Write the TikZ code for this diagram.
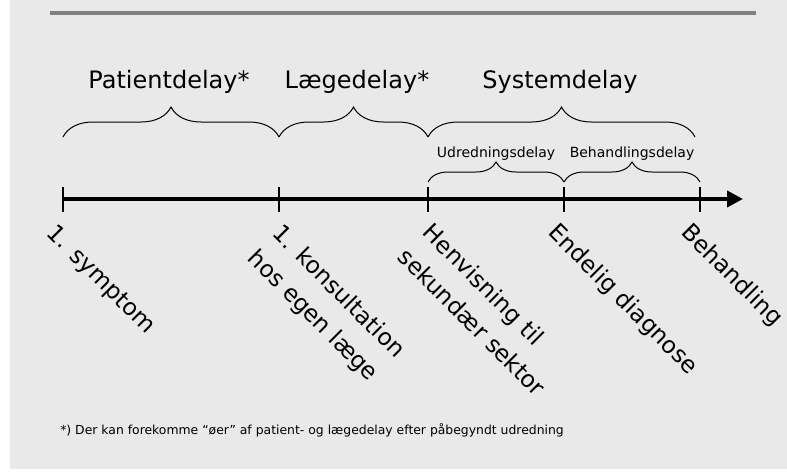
\documentclass[tikz,border=0pt]{standalone}
\usepackage{fontspec}
\setmainfont{DejaVu Sans}
\usepackage{tikz}
\usetikzlibrary{calc}
\usetikzlibrary{arrows.meta}
\usetikzlibrary{decorations.pathreplacing}
\definecolor{slidebg}{RGB}{233,233,233}
\definecolor{rulegray}{RGB}{128,128,128}

\begin{document}
\begin{tikzpicture}[x=0.75pt,y=-0.75pt,
	bigbrace/.style={decorate,decoration={brace,amplitude=22.5pt},line width=0.75pt},
	smallbrace/.style={decorate,decoration={brace,amplitude=15pt},line width=0.75pt},
	axistick/.style={line width=1.7pt},
	delaylabel/.style={font=\fontsize{18}{21}\selectfont,anchor=base,inner sep=0pt},
	subdelaylabel/.style={font=\fontsize{10.5}{12}\selectfont,anchor=base,inner sep=0pt},
	eventlabel/.style={font=\fontsize{17.5}{26.25}\selectfont,rotate=-45,anchor=north west,align=left,inner sep=0pt}]
	\useasboundingbox (0,0) rectangle (787,471);
	\fill[slidebg] (10,0) rectangle (787,469);
	\coordinate (RL) at (50,13);
	\coordinate (RR) at (756,13);
	\draw[rulegray,line width=2.3pt] (RL)--(RR);

	\coordinate (S) at (63,199);
	\coordinate (K) at (279,199);
	\coordinate (H) at (428,199);
	\coordinate (D) at (564,199);
	\coordinate (B) at (700,199);
	\coordinate (E) at (743,199);
	\draw[line width=2.8pt,-{Triangle[length=12pt,width=12pt]}] (S)--(E);
	\foreach \p in {S,K,H,D,B}
		\draw[axistick] ($(\p)+(0,-12)$)--($(\p)+(0,13)$);

	% braces over the time line
	\draw[bigbrace] ($(S)+(0,-62)$)--($(K)+(0,-62)$);
	\draw[bigbrace] ($(K)+(0,-62)$)--($(H)+(0,-62)$);
	\draw[bigbrace] ($(H)+(0,-62)$)--($(B)+(-5,-62)$);
	\draw[smallbrace] ($(H)+(0,-17)$)--($(D)+(0,-17)$);
	\draw[smallbrace] ($(D)+(0,-17)$)--($(B)+(0,-17)$);

	\node[delaylabel] (patient) at (169,88) {Patientdelay*};
	\node[delaylabel] (laege) at (357,88) {Lægedelay*};
	\node[delaylabel] (system) at (560,88) {Systemdelay};
	\node[subdelaylabel] (udred) at (496,157) {Udredningsdelay};
	\node[subdelaylabel] (behand) at (632,157) {Behandlingsdelay};

	\node[eventlabel] (symptom) at (58,222) {1. symptom};
	\node[eventlabel] (konsult) at (284,222) {1. konsultation\\hos egen læge};
	\node[eventlabel] (henvis) at (434,221) {Henvisning til\\sekundær sektor};
	\node[eventlabel] (diagnose) at (560,221) {Endelig diagnose};
	\node[eventlabel] (behandling) at (693,221) {Behandling};

	\node[font=\fontsize{9.3}{11}\selectfont,anchor=west,inner sep=0pt] (note) at (60,430) {*) Der kan forekomme “øer” af patient- og lægedelay efter påbegyndt udredning};
\end{tikzpicture}
\end{document}
